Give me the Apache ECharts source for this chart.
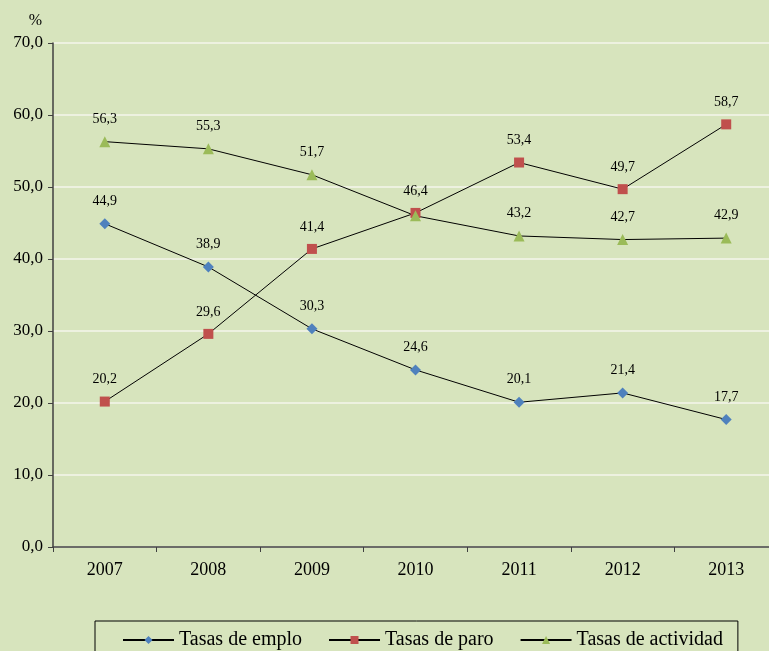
<!DOCTYPE html>
<html><head><meta charset="utf-8">
<script src="https://cdn.jsdelivr.net/npm/echarts@6/dist/echarts.min.js"></script>
<style>html,body{margin:0;padding:0;background:#D7E4BD;overflow:hidden;}#c{width:769px;height:651px;}</style>
</head><body><div id="c"></div>
<script>
const years = ['2007','2008','2009','2010','2011','2012','2013'];
const empleo = [44.9, 38.9, 30.3, 24.6, 20.1, 21.4, 17.7];
const paro = [20.2, 29.6, 41.4, 46.4, 53.4, 49.7, 58.7];
const actividad = [56.3, 55.3, 51.7, 46.0, 43.2, 42.7, 42.9];
const actividadLabels = ['56,3','55,3','51,7','','43,2','42,7','42,9'];
const FONT = '"Liberation Serif", "Times New Roman", serif';
const fmt = v => v.toFixed(1).replace('.', ',');
const chart = echarts.init(document.getElementById('c'));
function mk(name, data, sym, size, color, labels) {
  return {
    name, type: 'line', data, symbol: sym, symbolSize: size,
    lineStyle: {color: '#000', width: 1},
    itemStyle: {color: color},
    label: {show: true, position: 'top', distance: 10, fontFamily: FONT, fontSize: 14, color: '#000',
      formatter: p => labels ? labels[p.dataIndex] : fmt(p.value)},
    animation: false
  };
}
chart.setOption({
  backgroundColor: '#D7E4BD',
  animation: false,
  grid: {left: 53, width: 725, top: 43, bottom: 104, containLabel: false, outerBoundsMode: 'none'},
  xAxis: {type: 'category', data: years, boundaryGap: true,
    axisLine: {lineStyle: {color: '#404040', width: 1.5}},
    axisTick: {show: true, length: 5, inside: false, alignWithLabel: false, lineStyle: {color: '#404040'}},
    axisLabel: {fontFamily: FONT, fontSize: 18, color: '#000', margin: 14}},
  yAxis: {type: 'value', min: 0, max: 70, interval: 10, name: '%', nameLocation: 'end',
    nameGap: 14, nameTextStyle: {fontFamily: FONT, fontSize: 16, color: '#000', align: 'right', padding: [0, 11, 0, 0]},
    axisLine: {show: true, lineStyle: {color: '#404040', width: 1.5}},
    axisTick: {show: true, length: 5, lineStyle: {color: '#404040'}},
    splitLine: {lineStyle: {color: '#F4F6EC', width: 1.5}},
    axisLabel: {fontFamily: FONT, fontSize: 17, color: '#000', margin: 10, formatter: v => fmt(v)}},
  legend: {top: 621, left: 95, padding: [9, 15, 30, 27],
    borderColor: '#000', borderWidth: 1, itemGap: 26, itemWidth: 51, itemHeight: 10,
    textStyle: {fontFamily: FONT, fontSize: 20, color: '#000'},
    data: ['Tasas de emplo', 'Tasas de paro', 'Tasas de actividad']},
  series: [
    mk('Tasas de emplo', empleo, 'diamond', 11, '#4F81BD'),
    mk('Tasas de paro', paro, 'rect', 10, '#C0504D'),
    mk('Tasas de actividad', actividad, 'triangle', 11, '#9BBB59', actividadLabels)
  ]
});
</script></body></html>
